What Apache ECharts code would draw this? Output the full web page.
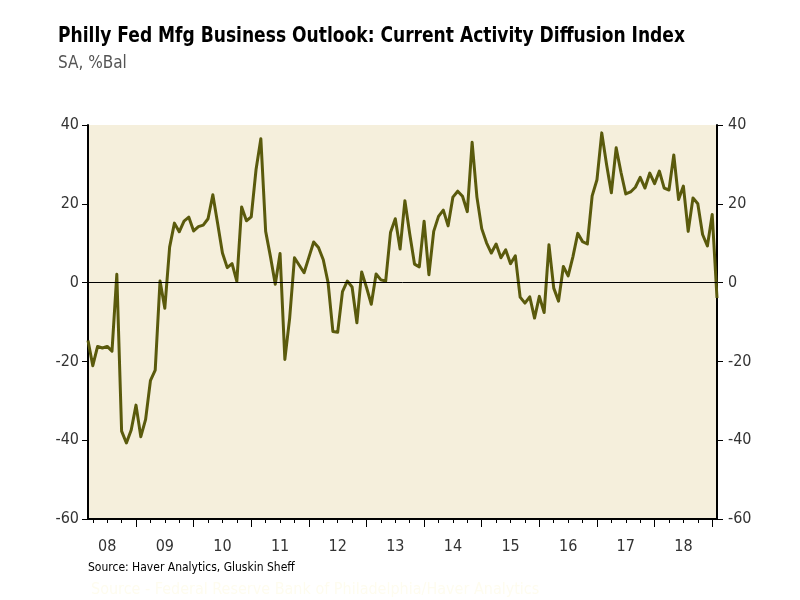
<!DOCTYPE html>
<html><head><meta charset="utf-8">
<script src="https://cdn.jsdelivr.net/npm/echarts@6/dist/echarts.min.js"></script>
<style>html,body{margin:0;padding:0;background:#fff}#c{width:800px;height:600px}</style>
</head><body><div id="c"></div>
<script>
// Philly Fed Mfg Business Outlook: Current Activity Diffusion Index (SA, %Bal), monthly
// 2008 starts in March; 2019 has Jan-Feb
const values2008 = [-14.7, -21.1, -16.2, -16.6, -16.2, -17.4, 2.1, -37.7, -40.7, -37.4];
const values2009 = [-31.1, -39.1, -34.7, -24.9, -22.2, 0.4, -6.5, 9.0, 15.1, 12.9, 15.6, 16.6];
const values2010 = [13.1, 14.2, 14.6, 16.2, 22.3, 15.0, 7.5, 3.8, 4.8, 0.3, 19.2, 15.7];
const values2011 = [16.7, 28.7, 36.5, 13.0, 6.6, -0.4, 7.4, -19.5, -9.0, 6.3, 4.4, 2.5];
const values2012 = [6.4, 10.3, 8.9, 5.8, 0.0, -12.4, -12.6, -2.3, 0.4, -1.1, -10.2, 2.7];
const values2013 = [-1.2, -5.5, 2.2, 0.7, 0.4, 12.7, 16.2, 8.5, 20.8, 12.4, 4.7, 4.0];
const values2014 = [15.6, 2.0, 13.0, 16.8, 18.4, 14.4, 21.7, 23.2, 21.9, 18.0, 35.6, 21.7];
const values2015 = [13.7, 10.1, 7.5, 9.8, 6.3, 8.3, 4.8, 6.8, -3.7, -5.2, -3.6, -9.0];
const values2016 = [-3.5, -7.6, 9.6, -1.4, -4.7, 4.1, 1.7, 6.6, 12.5, 10.4, 9.8, 22.0];
const values2017 = [26.1, 38.0, 30.0, 22.8, 34.2, 28.0, 22.5, 23.0, 24.2, 26.7, 24.0, 27.8];
const values2018 = [25.1, 28.3, 24.0, 23.5, 32.4, 21.1, 24.5, 13.0, 21.5, 20.0, 12.2, 9.3];
const values2019 = [17.3, -3.9];

const yearLabels = ['08','09','10','11','12','13','14','15','16','17','18'];
const yMin = -60, yMax = 40, yStep = 20;

const values = [].concat(values2008, values2009, values2010, values2011, values2012,
  values2013, values2014, values2015, values2016, values2017, values2018, values2019);

// month categories, starting March 2008
const months = [];
(function(){
  let yr = 2008, mo = 3;
  for (let i = 0; i < values.length; i++) {
    months.push(yr + '-' + (mo < 10 ? '0' + mo : '' + mo));
    mo++; if (mo > 12) { mo = 1; yr++; }
  }
})();
const monthOf = v => parseInt(v.slice(5, 7), 10);
const yearOf = v => parseInt(v.slice(0, 4), 10);

const FONT = "'DejaVu Sans Condensed', 'Liberation Sans', sans-serif";

const chart = echarts.init(document.getElementById('c'), null, {renderer: 'canvas'});
const G = {left: 88, right: 83, top: 125, height: 394};

chart.setOption({
  animation: false,
  backgroundColor: '#ffffff',
  grid: {left: G.left, right: G.right, top: G.top, height: G.height,
    show: true, backgroundColor: '#f5efdc', borderWidth: 0, containLabel: false, outerBoundsMode: 'none'},
  graphic: [
    {type: 'text', x: 58, y: 26, scaleX: 0.905, scaleY: 1, originX: 0, originY: 0,
      style: {text: 'Philly Fed Mfg Business Outlook: Current Activity Diffusion Index',
      font: "bold 21px " + FONT, fill: '#000', verticalAlign: 'top'}},
    {type: 'text', x: 58, y: 55, style: {text: 'SA, %Bal', font: "17px " + FONT, fill: '#555', verticalAlign: 'top'}},
    {type: 'text', x: 88, y: 562, style: {text: 'Source: Haver Analytics, Gluskin Sheff', font: "12px " + FONT, fill: '#000', verticalAlign: 'top'}},
    {type: 'text', x: 91, y: 582, style: {text: 'Source - Federal Reserve Bank of Philadelphia/Haver Analytics', font: "16px " + FONT, fill: '#fefcef', verticalAlign: 'top'}}
  ],
  xAxis: [
    {type: 'category', data: months, boundaryGap: false, position: 'bottom',
      axisLine: {show: true, onZero: false, lineStyle: {color: '#000', width: 2}},
      axisTick: {show: true, inside: false, length: 4, lineStyle: {color: '#000', width: 1},
        interval: (i, v) => [1, 4, 7, 10].indexOf(monthOf(v)) >= 0},
      axisLabel: {show: true, interval: (i, v) => monthOf(v) === 7, margin: 20,
        formatter: v => yearLabels[yearOf(v) - 2008],
        fontFamily: FONT, fontSize: 16, color: '#333'},
      splitLine: {show: false}},
    {type: 'category', data: months, boundaryGap: false, position: 'bottom',
      axisLine: {show: false, onZero: false},
      axisTick: {show: true, inside: false, length: 8, lineStyle: {color: '#000', width: 1},
        interval: (i, v) => monthOf(v) === 1},
      axisLabel: {show: false}, splitLine: {show: false}}
  ],
  yAxis: [
    {type: 'value', position: 'left', min: yMin, max: yMax, interval: yStep,
      axisLine: {show: true, onZero: false, lineStyle: {color: '#000', width: 2}},
      axisTick: {show: true, inside: false, length: 6, lineStyle: {color: '#000', width: 1}},
      axisLabel: {margin: 9, fontFamily: FONT, fontSize: 16, color: '#333'},
      splitLine: {show: false}},
    {type: 'value', position: 'right', min: yMin, max: yMax, interval: yStep,
      axisLine: {show: true, onZero: false, lineStyle: {color: '#000', width: 2}},
      axisTick: {show: true, inside: false, length: 6, lineStyle: {color: '#000', width: 1}},
      axisLabel: {margin: 11, fontFamily: FONT, fontSize: 16, color: '#333'},
      splitLine: {show: false}}
  ],
  series: [{
    type: 'line', data: values, xAxisIndex: 0, yAxisIndex: 0,
    symbol: 'none', smooth: false, clip: true,
    lineStyle: {color: '#5a5a0c', width: 3, join: 'round'},
    markLine: {silent: true, symbol: 'none', label: {show: false},
      lineStyle: {color: '#000', width: 1, type: 'solid'}, data: [{yAxis: 0}]},
    z: 3
  }]
});
</script></body></html>
